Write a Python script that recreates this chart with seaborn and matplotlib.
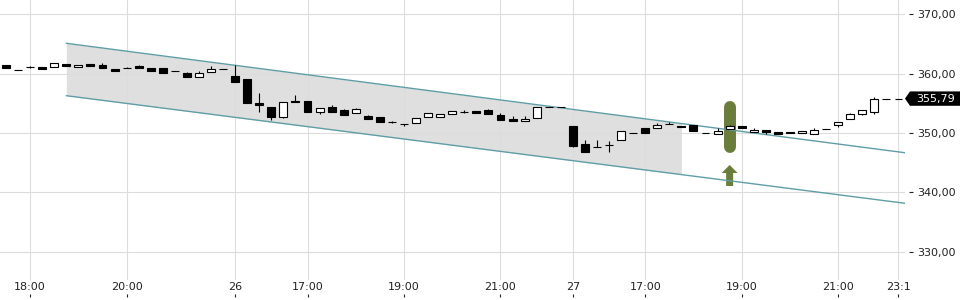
import numpy as np
import pandas as pd
import matplotlib
matplotlib.use("Agg")
import matplotlib.pyplot as plt
import matplotlib.transforms as mtransforms
from matplotlib.patches import Polygon, FancyArrow
import seaborn as sns

# ---------------- data ----------------
candle_idx = list(range(75))
opens = [361.45, 360.58, 361.05, 361.06, 361.06, 361.62, 361.06, 361.62, 361.45, 360.77,
         360.95, 361.28, 360.94, 360.94, 360.40, 360.10, 359.48, 360.22, 360.73, 359.60,
         359.09, 355.10, 354.38, 352.74, 355.34, 355.34, 353.48, 354.38, 353.87, 353.32,
         352.86, 352.64, 351.92, 351.48, 351.63, 352.64, 352.64, 353.15, 353.60, 353.70,
         353.87, 353.03, 352.36, 351.97, 352.47, 354.44, 354.39, 351.18, 348.15, 347.71,
         347.97, 348.77, 350.06, 350.84, 350.79, 351.53, 351.18, 351.35, 349.96, 349.83,
         350.62, 351.18, 350.12, 350.45, 350.12, 350.17, 349.95, 349.83, 350.73, 351.40,
         352.31, 353.15, 353.48, 355.78, 355.79]
highs = [361.50, 360.60, 361.20, 361.08, 361.73, 361.65, 361.45, 361.62, 361.80, 360.77,
         361.05, 361.50, 360.94, 360.94, 360.40, 360.27, 360.44, 361.28, 360.73, 361.45,
         359.09, 356.78, 354.38, 355.22, 356.40, 355.34, 354.16, 354.71, 354.04, 354.20,
         353.03, 352.64, 352.00, 351.50, 352.47, 353.32, 353.15, 353.65, 353.87, 353.70,
         354.04, 353.42, 352.86, 352.86, 354.33, 354.44, 354.39, 351.18, 348.82, 348.82,
         348.70, 350.29, 350.06, 350.84, 351.63, 351.85, 351.18, 351.35, 349.96, 350.79,
         351.35, 351.18, 350.79, 350.45, 350.12, 350.17, 350.29, 350.79, 350.73, 351.80,
         353.42, 353.82, 356.00, 355.80, 355.80]
lows = [360.90, 360.53, 361.00, 360.80, 361.06, 361.20, 361.06, 361.33, 360.89, 360.49,
        360.90, 360.89, 360.49, 360.15, 360.37, 359.48, 359.48, 360.22, 360.70, 358.64,
        355.10, 353.59, 352.19, 352.60, 355.17, 353.48, 353.20, 353.59, 353.08, 353.32,
        352.41, 351.90, 351.75, 351.23, 351.63, 352.64, 352.64, 353.15, 353.32, 353.42,
        353.15, 352.19, 351.97, 351.97, 352.47, 354.40, 354.36, 347.69, 346.85, 347.68,
        346.85, 348.77, 350.03, 350.05, 350.79, 351.50, 351.01, 350.39, 349.93, 349.83,
        350.62, 350.79, 350.12, 349.83, 349.78, 349.95, 349.95, 349.83, 350.70, 351.06,
        352.31, 352.98, 353.15, 355.76, 355.78]
closes = [360.94, 360.55, 361.08, 360.82, 361.73, 361.33, 361.45, 361.33, 360.89, 360.49,
          360.93, 360.89, 360.49, 360.15, 360.38, 359.48, 360.10, 360.72, 360.71, 358.64,
          355.10, 354.71, 352.64, 355.22, 355.17, 353.48, 354.16, 353.59, 353.08, 354.04,
          352.41, 351.90, 351.88, 351.44, 352.47, 353.32, 353.15, 353.65, 353.58, 353.42,
          353.15, 352.19, 351.97, 352.31, 354.33, 354.42, 354.37, 347.81, 346.85, 347.68,
          347.99, 350.29, 350.04, 350.05, 351.35, 351.51, 351.01, 350.39, 349.94, 350.39,
          351.13, 350.79, 350.51, 350.22, 349.78, 349.95, 350.29, 350.51, 350.71, 351.80,
          353.20, 353.82, 355.72, 355.77, 355.79]

x_tick_pos = [2, 10, 19, 25, 33, 41, 47, 53, 61, 69, 74]
x_tick_labels = ["18:00", "20:00", "26", "17:00", "19:00", "21:00", "27",
                 "17:00", "19:00", "21:00", "23:1"]
y_ticks = [330, 340, 350, 360, 370]

channel_x = [5, 74.6]
channel_upper = [365.10, 346.66]
channel_lower = [356.28, 338.15]
shade_span = [5, 56]

signal_x = 60
signal_range = [347.69, 354.43]
arrow_range = [341.08, 344.61]
last_price = 355.79

# ---------------- style ----------------
sns.set_theme(style="white")
plt.rcParams['font.family'] = ['DejaVu Sans']

fig = plt.figure(figsize=(9.6, 3.0), dpi=100)
ax = fig.add_axes([0, 20 / 300, 905 / 960, 280 / 300])

df = pd.DataFrame(dict(i=candle_idx, o=opens, h=highs, l=lows, c=closes))
df['bottom'] = df[['o', 'c']].min(axis=1)
df['height'] = (df['c'] - df['o']).abs()
df['up'] = df['c'] > df['o']

# channel shading
xs = np.array(shade_span, dtype=float)
ax.fill_between(xs, np.interp(xs, channel_x, channel_lower),
                np.interp(xs, channel_x, channel_upper),
                color='black', alpha=0.125, lw=0, zorder=0.5)

# signal marker
green = '#6a7d3a'
ax.plot([signal_x, signal_x], signal_range, color=green, lw=8.6,
        solid_capstyle='round', zorder=1.5)
ax.add_patch(FancyArrow(signal_x, arrow_range[0], 0, arrow_range[1] - arrow_range[0],
                        width=0.58, head_width=1.33, head_length=1.35,
                        length_includes_head=True, color=green, lw=0, zorder=1.5))

# channel lines
teal = '#5f9ea6'
sns.lineplot(x=channel_x, y=channel_upper, ax=ax, color=teal, lw=1, zorder=1.8)
sns.lineplot(x=channel_x, y=channel_lower, ax=ax, color=teal, lw=1, zorder=1.8)

# wicks
ax.vlines(df['i'], df['l'], df['h'], color='black', lw=0.8, zorder=2)

# bodies
up = df[df['up']]
dn = df[~df['up']]
sns.barplot(data=up, x='i', y='height', native_scale=True, bottom=up['bottom'].values,
            width=0.66, color='white', edgecolor='black', linewidth=0.8,
            errorbar=None, saturation=1, ax=ax, zorder=3)
sns.barplot(data=dn, x='i', y='height', native_scale=True, bottom=dn['bottom'].values,
            width=0.66, color='black', edgecolor='black', linewidth=0.8,
            errorbar=None, saturation=1, ax=ax, zorder=3)

# axes
ax.set_xlim(-0.4975, 74.54)
ax.set_ylim(325.25, 372.39)
ax.set_xlabel('')
ax.set_ylabel('')
ax.set_xticks(x_tick_pos)
ax.set_xticklabels(x_tick_labels)
ax.yaxis.tick_right()
ax.set_yticks(y_ticks)
ax.set_yticklabels([f"{v:.2f}".replace('.', ',') for v in y_ticks])
ax.spines['right'].set_position(('outward', 3))
for s in ax.spines.values():
    s.set_visible(False)
ax.tick_params(axis='y', right=True, left=False, length=3, width=0.8,
               color='#222222', pad=2.7, labelsize=8, labelcolor='#222222')
ax.tick_params(axis='x', bottom=False, length=0, pad=1.8, labelsize=8,
               labelcolor='#222222')
ax.grid(True, color='#dcdcdc', lw=0.8)
ax.set_axisbelow(True)

# small x tick marks under the labels
ax.vlines(x_tick_pos, -0.061, -0.05, transform=ax.get_xaxis_transform(),
          clip_on=False, color='#222222', lw=0.8)

# last price tag
trans = mtransforms.blended_transform_factory(ax.transAxes, ax.transData)
hh = 1.21
tag = Polygon([(1.0, last_price), (1.0055, last_price + hh), (1.07, last_price + hh),
               (1.07, last_price - hh), (1.0055, last_price - hh)], closed=True,
              transform=trans, clip_on=False, fc='black', ec='none', zorder=5)
ax.add_patch(tag)
ax.text(1.0129, last_price, f"{last_price:.2f}".replace('.', ','), transform=trans,
        ha='left', va='center', color='white', fontsize=8, zorder=6, clip_on=False)

fig.savefig('out.png', dpi=100, facecolor='white')
